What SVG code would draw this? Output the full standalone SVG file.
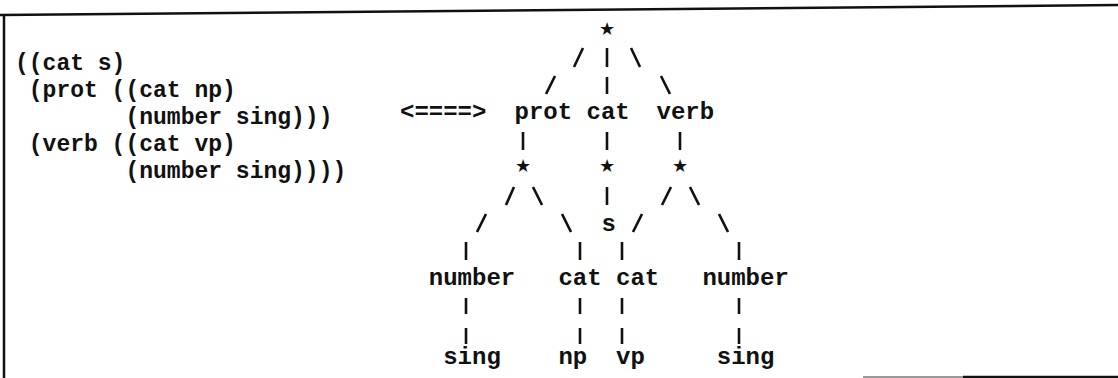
<svg xmlns="http://www.w3.org/2000/svg" width="1118" height="378" viewBox="0 0 1118 378">
<style>
  .t { font-family: "Liberation Mono", "Courier New", monospace; font-weight: bold; font-size: 24px; fill: #111; white-space: pre; }
  .l { font-size: 23px; }
  .star { font-family: "DejaVu Sans", sans-serif; font-size: 18px; fill: #111; text-anchor: middle; }
  .c line { stroke: #111; stroke-width: 2.6; stroke-linecap: butt; }
  .frame { stroke: #111; stroke-width: 2.5; fill: none; }
</style>
<rect width="1118" height="378" fill="#fff"/>
<g id="frame">
  <line class="frame" x1="0" y1="15" x2="1118" y2="5"/>
  <line class="frame" x1="4" y1="14" x2="4" y2="378" stroke-width="3"/>
  <line x1="863" y1="377" x2="963" y2="377" stroke="#999" stroke-width="2"/>
  <line x1="963" y1="377" x2="1118" y2="377" stroke="#111" stroke-width="2.5"/>
</g>
<g id="feature-list">
  <text class="t l" xml:space="preserve" x="15" y="70">((cat s)</text>
  <text class="t l" xml:space="preserve" x="15" y="97"> (prot ((cat np)</text>
  <text class="t l" xml:space="preserve" x="15" y="124">        (number sing)))</text>
  <text class="t l" xml:space="preserve" x="15" y="151"> (verb ((cat vp)</text>
  <text class="t l" xml:space="preserve" x="15" y="178">        (number sing))))</text>
</g>
<g id="equivalence-arrow"><text class="t" x="400" y="119">&lt;====&gt;</text></g>
<g class="c" id="connectors">
  <line x1="583" y1="48" x2="574" y2="67"/>
  <line x1="607" y1="48" x2="607" y2="67"/>
  <line x1="631" y1="48" x2="640" y2="67"/>
  <line x1="555" y1="76" x2="546" y2="94"/>
  <line x1="607" y1="77" x2="607" y2="94"/>
  <line x1="661" y1="76" x2="670" y2="94"/>
  <line x1="523" y1="132" x2="523" y2="150"/>
  <line x1="607" y1="132" x2="607" y2="150"/>
  <line x1="680" y1="132" x2="680" y2="150"/>
  <line x1="514" y1="187" x2="506" y2="205"/>
  <line x1="533" y1="187" x2="542" y2="205"/>
  <line x1="607" y1="187" x2="607" y2="205"/>
  <line x1="671" y1="187" x2="662" y2="205"/>
  <line x1="690" y1="187" x2="699" y2="205"/>
  <line x1="486" y1="214" x2="477" y2="232"/>
  <line x1="562" y1="214" x2="571" y2="232"/>
  <line x1="642" y1="214" x2="633" y2="232"/>
  <line x1="719" y1="214" x2="728" y2="232"/>
  <line x1="466" y1="242" x2="466" y2="260"/>
  <line x1="580" y1="242" x2="580" y2="260"/>
  <line x1="622" y1="242" x2="622" y2="260"/>
  <line x1="739" y1="242" x2="739" y2="260"/>
  <line x1="466" y1="298" x2="466" y2="314"/>
  <line x1="580" y1="298" x2="580" y2="314"/>
  <line x1="622" y1="298" x2="622" y2="314"/>
  <line x1="739" y1="298" x2="739" y2="314"/>
  <line x1="466" y1="328" x2="466" y2="344"/>
  <line x1="580" y1="328" x2="580" y2="344"/>
  <line x1="622" y1="328" x2="622" y2="344"/>
  <line x1="739" y1="328" x2="739" y2="344"/>
</g>
<g id="root"><text class="star" x="607" y="34.5">★</text></g>
<g id="prot"><text class="t" x="514.5" y="119">prot</text></g>
<g id="cat-top"><text class="t" x="586.5" y="119">cat</text></g>
<g id="verb"><text class="t" x="656.5" y="119">verb</text></g>
<g id="prot-node"><text class="star" x="523" y="172">★</text></g>
<g id="cat-node"><text class="star" x="607" y="171.5">★</text></g>
<g id="verb-node"><text class="star" x="680" y="171.5">★</text></g>
<g id="s"><text class="t" x="601.6" y="231">s</text></g>
<g id="number-prot"><text class="t" x="428.8" y="285">number</text></g>
<g id="cat-prot"><text class="t" x="558.4" y="285">cat</text></g>
<g id="cat-verb"><text class="t" x="616" y="285">cat</text></g>
<g id="number-verb"><text class="t" x="702.4" y="285">number</text></g>
<g id="sing-prot"><text class="t" x="443.2" y="364">sing</text></g>
<g id="np"><text class="t" x="558.4" y="364">np</text></g>
<g id="vp"><text class="t" x="616" y="364">vp</text></g>
<g id="sing-verb"><text class="t" x="716.8" y="364">sing</text></g>
</svg>
